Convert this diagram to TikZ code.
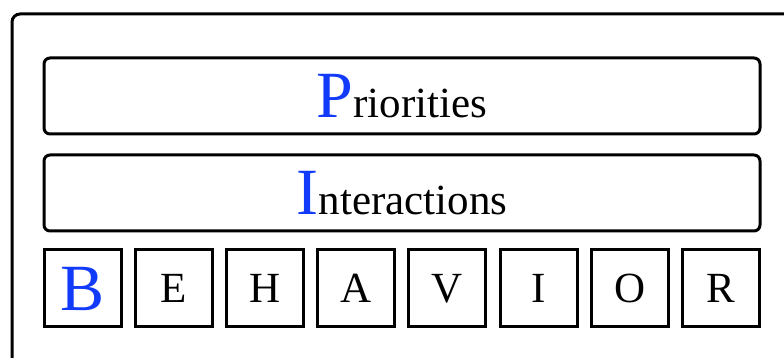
\documentclass[tikz,border=0pt]{standalone}
\usepackage{fontspec}
\setmainfont{Liberation Serif}
\usepackage{xcolor}
\definecolor{letterblue}{RGB}{18,58,250}
\newcommand{\bigfont}{\fontsize{33}{36}\selectfont}
\newcommand{\smallfont}{\fontsize{21.5}{24}\selectfont}
\begin{document}
\begin{tikzpicture}[x=0.5pt,y=-0.5pt,
    layerbox/.style={draw, line width=1.5pt, rounded corners=3pt, minimum width=358pt, minimum height=38pt, inner sep=0pt, font=\smallfont},
    letterbox/.style={draw, line width=1.5pt, minimum width=38.5pt, minimum height=38.5pt, inner sep=0pt, font=\smallfont}]
    \useasboundingbox (0,0) rectangle (784,358);
    \clip (0,0) rectangle (784,358);
    % Outer frame (runs off the page)
    \draw[line width=1.5pt, rounded corners=4pt] (12,14) rectangle (820,400);
    % Layers
    \node[layerbox] (prio) at (402,96) {{\color{letterblue}\bigfont P}riorities};
    \node[layerbox] (inter) at (402,193) {{\color{letterblue}\bigfont I}nteractions};
    % Behavior letters
    \node[letterbox, text=letterblue, font=\bigfont] (box-B) at (82.5,288.5) {B};
    \foreach \l [count=\i] in {E,H,A,V,I,O,R} {
        \node[letterbox] (box-\l) at (82.5+91.2*\i,288.5) {\l};
    }
\end{tikzpicture}
\end{document}
